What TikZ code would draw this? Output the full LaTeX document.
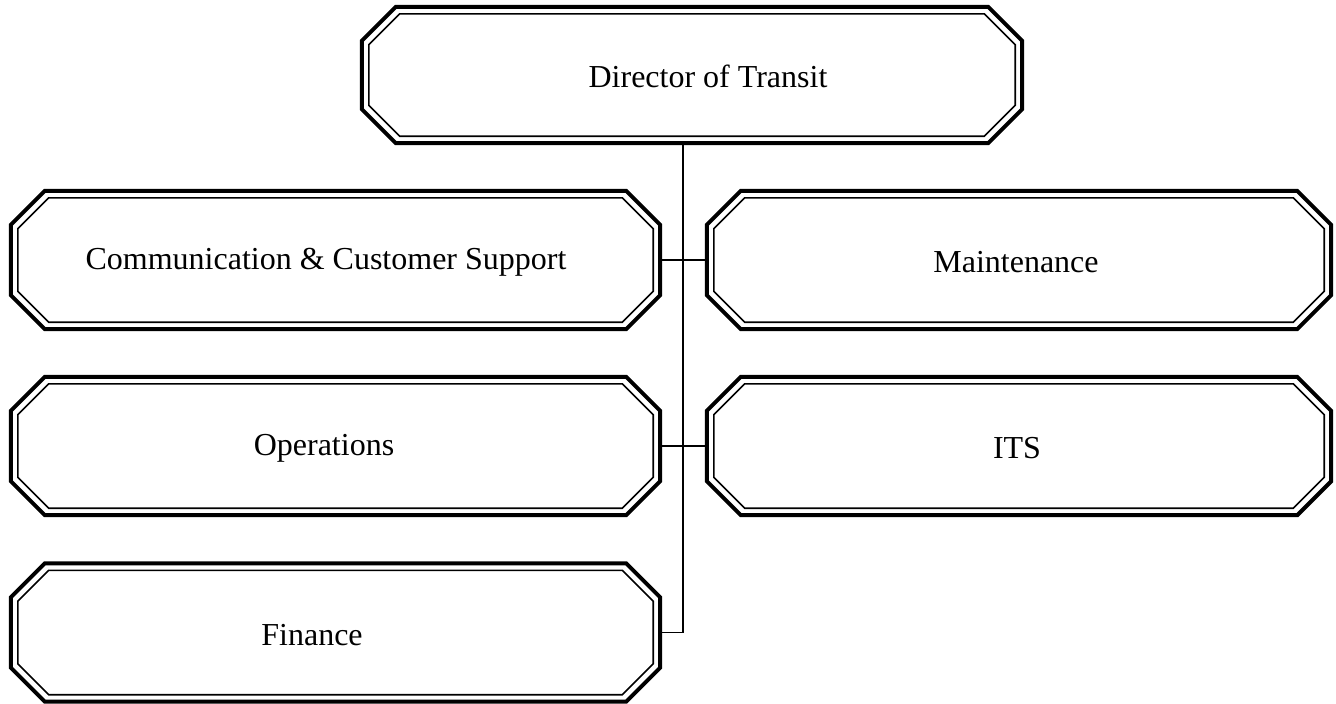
\documentclass[tikz,border=0pt]{standalone}
\usepackage{fontspec}
\setmainfont{Liberation Serif}
\begin{document}
\begin{tikzpicture}[x=1pt,y=-1pt,
  unitbox/.style={inner sep=0pt, minimum height=138pt},
  label/.style={font=\fontsize{32}{38}\selectfont, inner sep=0pt},
  outerline/.style={line width=4pt, line join=miter},
  innerline/.style={line width=1.6pt, line join=miter},
  link/.style={line width=1.8pt}]
\useasboundingbox (0,0) rectangle (1336,704);

% units
\node[unitbox, minimum width=660pt, minimum height=136pt] (top) at (692,75) {};
\node[unitbox, minimum width=649pt] (comm) at (335.5,260) {};
\node[unitbox, minimum width=624pt] (maint) at (1019,260) {};
\node[unitbox, minimum width=649pt] (ops) at (335.5,446) {};
\node[unitbox, minimum width=624pt] (its) at (1019,446) {};
\node[unitbox, minimum width=649pt] (fin) at (335.5,632.5) {};

% unit titles
\node[label] (topT) at (708,76) {Director of Transit};
\node[label] (commT) at (326,262) {Communication \& Customer Support};
\node[label] (maintT) at (1016,262) {Maintenance};
\node[label] (opsT) at (324,448) {Operations};
\node[label] (itsT) at (1017,448) {ITS};
\node[label] (finT) at (312,635) {Finance};

% double-ruled octagonal frames
\def\ch{34pt}
\def\inset{7pt}
\def\chi{31pt}
\foreach \n in {top,comm,maint,ops,its,fin}{
  \draw[outerline]
    ([xshift=\ch]\n.north west) -- ([xshift=-\ch]\n.north east)
    -- ([yshift=-\ch]\n.north east) -- ([yshift=\ch]\n.south east)
    -- ([xshift=-\ch]\n.south east) -- ([xshift=\ch]\n.south west)
    -- ([yshift=\ch]\n.south west) -- ([yshift=-\ch]\n.north west) -- cycle;
  \draw[innerline]
    ([xshift=\inset+\chi,yshift=-\inset]\n.north west) -- ([xshift=-\inset-\chi,yshift=-\inset]\n.north east)
    -- ([xshift=-\inset,yshift=-\inset-\chi]\n.north east) -- ([xshift=-\inset,yshift=\inset+\chi]\n.south east)
    -- ([xshift=-\inset-\chi,yshift=\inset]\n.south east) -- ([xshift=\inset+\chi,yshift=\inset]\n.south west)
    -- ([xshift=\inset,yshift=\inset+\chi]\n.south west) -- ([xshift=\inset,yshift=-\inset-\chi]\n.north west) -- cycle;
}

% reporting lines
\coordinate (spine) at (683,632.5);
\draw[link] (top.south -| spine) |- (fin.east);
\draw[link] (comm.east) -- (maint.west);
\draw[link] (ops.east) -- (its.west);
\end{tikzpicture}
\end{document}
